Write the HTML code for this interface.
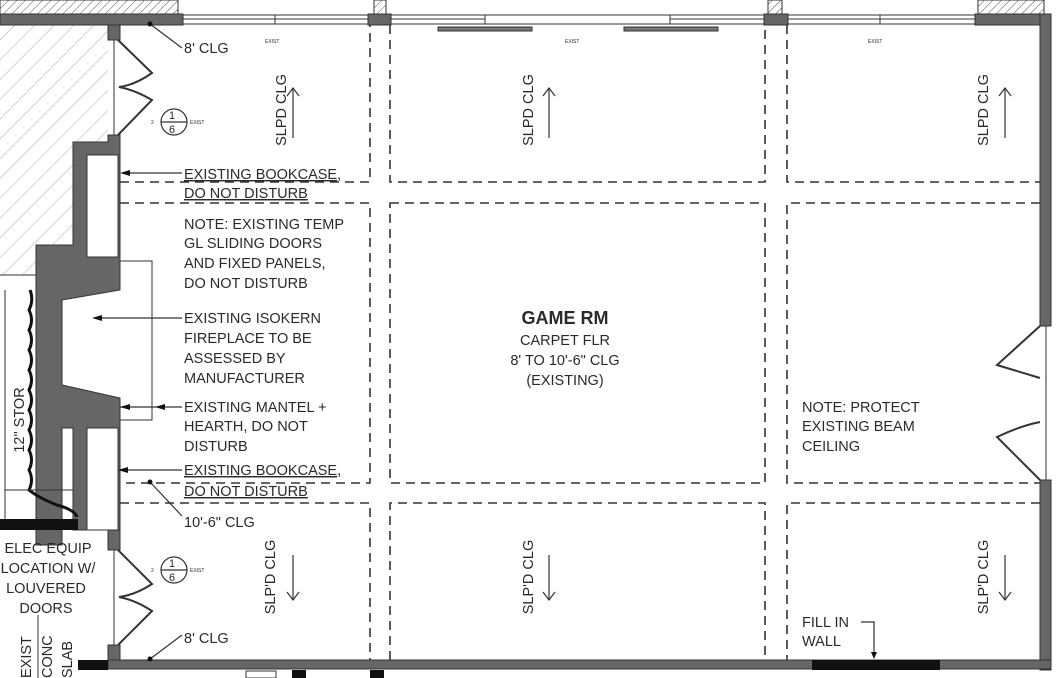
<!DOCTYPE html>
<html><head><meta charset="utf-8"><style>
html,body{margin:0;padding:0;background:#fff}
svg{display:block}
text{font-family:"Liberation Sans",Arial,sans-serif;fill:#2a2a2a}
</style></head><body>
<svg width="1056" height="678" viewBox="0 0 1056 678" xmlns="http://www.w3.org/2000/svg" font-size="14.5">
<defs>
<pattern id="h" width="14" height="14" patternUnits="userSpaceOnUse" patternTransform="rotate(45)">
<line x1="0" y1="0" x2="0" y2="14" stroke="#aaa" stroke-width="1"/></pattern>
<pattern id="h2" width="6" height="6" patternUnits="userSpaceOnUse" patternTransform="rotate(45)">
<line x1="0" y1="0" x2="0" y2="6" stroke="#555" stroke-width="1"/></pattern>
</defs>
<rect x="0" y="0" width="178" height="14" fill="url(#h2)" stroke="#333"/>
<rect x="978" y="0" width="66" height="14" fill="url(#h2)" stroke="#333"/>
<rect x="374" y="0" width="12" height="14" fill="url(#h2)" stroke="#333"/>
<rect x="768" y="0" width="14" height="14" fill="url(#h2)" stroke="#333"/>
<polygon points="0,25 108,25 108,142 73,142 73,245 36,245 36,275 0,275" fill="url(#h)"/>
<rect x="0" y="14" width="183" height="11" fill="#666" stroke="#333"/>
<rect x="183" y="15" width="187" height="9" fill="#fff" stroke="#333"/>
<line x1="183" y1="19" x2="370" y2="19" stroke="#333"/>
<line x1="275" y1="15" x2="275" y2="24" stroke="#333"/>
<rect x="368" y="14" width="23" height="11" fill="#666" stroke="#333"/>
<rect x="391" y="15" width="374" height="9" fill="#fff" stroke="#333"/>
<rect x="391" y="15" width="94" height="9" fill="#fff" stroke="#333"/>
<rect x="670" y="15" width="95" height="9" fill="#fff" stroke="#333"/>
<line x1="391" y1="19" x2="485" y2="19" stroke="#333"/><line x1="670" y1="19" x2="765" y2="19" stroke="#333"/>
<rect x="438" y="27" width="94" height="4" fill="#777" stroke="#333"/>
<rect x="624" y="27" width="94" height="4" fill="#777" stroke="#333"/>
<rect x="764" y="14" width="24" height="11" fill="#666" stroke="#333"/>
<rect x="788" y="15" width="187" height="9" fill="#fff" stroke="#333"/>
<line x1="788" y1="19" x2="975" y2="19" stroke="#333"/><line x1="880" y1="15" x2="880" y2="24" stroke="#333"/>
<rect x="975" y="14" width="75" height="11" fill="#666" stroke="#333"/>
<rect x="1040" y="14" width="11" height="312" fill="#666" stroke="#333"/>
<rect x="1040" y="480" width="11" height="190" fill="#666" stroke="#333"/>
<line x1="1046" y1="326" x2="1046" y2="480" stroke="#333"/>
<path d="M1040,326 L997,365 Q1020,372 1040,378 M1040,480 L997,437 Q1020,426 1040,422" fill="none" stroke="#333" stroke-width="2"/>
<rect x="108" y="660" width="943" height="9" fill="#666" stroke="#333"/>
<rect x="812" y="660" width="128" height="10" fill="#111"/>
<rect x="78" y="660" width="30" height="10" fill="#111"/>
<rect x="246" y="671" width="30" height="7" fill="#fff" stroke="#333"/>
<rect x="292" y="670" width="14" height="8" fill="#111"/><rect x="370" y="670" width="14" height="8" fill="#111"/>
<rect x="108" y="25" width="12" height="15" fill="#666" stroke="#333"/>
<line x1="114" y1="40" x2="114" y2="135" stroke="#333"/>
<path d="M118,40 L152,73 Q135,85 119,87 Q135,90 152,100 L118,135" fill="none" stroke="#333" stroke-width="2"/>
<rect x="108" y="530" width="12" height="20" fill="#666" stroke="#333"/>
<rect x="108" y="645" width="12" height="15" fill="#666" stroke="#333"/>
<line x1="114" y1="550" x2="114" y2="645" stroke="#333"/>
<path d="M118,550 L152,584 Q135,595 119,597 Q135,600 152,611 L118,645" fill="none" stroke="#333" stroke-width="2"/>
<polygon points="108,135 120,135 120,290 62,300 62,385 120,398 120,530 73,530 73,428 62,428 62,545 36,545 36,245 73,245 73,142 108,142" fill="#666" stroke="#333"/>
<rect x="87" y="155" width="31" height="102" fill="#fff" stroke="#333"/>
<rect x="87" y="428" width="31" height="102" fill="#fff" stroke="#333"/>
<polyline points="120,261 152,261 152,420 120,420" fill="none" stroke="#333"/>
<path d="M30,290 q4,10 -1,20 q5,10 0,20 q5,10 0,20 q5,10 0,20 q5,10 0,20 q5,10 0,20 q5,10 0,20 q5,10 0,20 q5,10 0,20 q5,10 0,20 q10,8 28,15 q18,5 20,12" fill="none" stroke="#111" stroke-width="3"/>
<line x1="0" y1="275" x2="36" y2="275" stroke="#333"/>
<line x1="5" y1="290" x2="5" y2="520" stroke="#333"/>
<line x1="5" y1="490" x2="73" y2="490" stroke="#333"/>
<rect x="0" y="519" width="78" height="11" fill="#111"/>
<text transform="translate(24,420) rotate(-90)" text-anchor="middle">12" STOR</text>
<g text-anchor="middle"><text x="48" y="553">ELEC EQUIP</text><text x="48" y="573">LOCATION W/</text><text x="46" y="593">LOUVERED</text><text x="46" y="613">DOORS</text></g>
<text transform="translate(31,678) rotate(-90)">EXIST</text>
<text transform="translate(52,678) rotate(-90)">CONC</text>
<text transform="translate(72,678) rotate(-90)">SLAB</text>
<line x1="38" y1="615" x2="38" y2="678" stroke="#333"/>
<g stroke="#333" stroke-width="1.6" stroke-dasharray="9,6" fill="none">
<polyline points="120,182 370,182 370,25"/>
<polyline points="120,203 370,203 370,483 120,483"/>
<polyline points="120,503 370,503 370,660"/>
<polyline points="390,25 390,182 765,182 765,25"/>
<rect x="390" y="203" width="375" height="280"/>
<polyline points="390,660 390,503 765,503 765,660"/>
<polyline points="787,25 787,182 1040,182"/>
<polyline points="1040,203 787,203 787,483 1040,483"/>
<polyline points="1040,503 787,503 787,660"/>
</g>
<g stroke="#333" fill="none" stroke-width="1.2">
<line x1="150" y1="24" x2="182" y2="48"/><line x1="150" y1="482" x2="182" y2="516"/><line x1="150" y1="659" x2="182" y2="635"/>
<line x1="125" y1="173" x2="182" y2="173"/>
<line x1="98" y1="318" x2="182" y2="318"/>
<line x1="120" y1="407" x2="182" y2="407"/>
<line x1="120" y1="470" x2="182" y2="470"/>
<polyline points="861,622 874,622 874,658"/>
<line x1="293" y1="88" x2="293" y2="138"/><polyline points="287,96 293,88 299,96"/>
<line x1="549" y1="88" x2="549" y2="138"/><polyline points="543,96 549,88 555,96"/>
<line x1="1005" y1="88" x2="1005" y2="138"/><polyline points="999,96 1005,88 1011,96"/>
<line x1="293" y1="555" x2="293" y2="600"/><polyline points="287,592 293,600 299,592"/>
<line x1="549" y1="555" x2="549" y2="600"/><polyline points="543,592 549,600 555,592"/>
<line x1="1005" y1="555" x2="1005" y2="600"/><polyline points="999,592 1005,600 1011,592"/>
<circle cx="174" cy="122" r="13"/><line x1="161" y1="122" x2="187" y2="122"/>
<circle cx="174" cy="570" r="13"/><line x1="161" y1="570" x2="187" y2="570"/>
</g>
<g fill="#111"><circle cx="150" cy="24" r="2.5"/><circle cx="150" cy="482" r="2.5"/><circle cx="150" cy="659" r="2.5"/>
<polygon points="120,173 130,170 130,176"/><polygon points="92,318 102,315 102,321"/><polygon points="120,407 130,404 130,410"/><polygon points="155,407 165,404 165,410"/><polygon points="118,470 128,467 128,473"/><polygon points="871,652 877,652 874,659"/></g>
<g font-size="11"><text x="169" y="119">1</text><text x="169" y="133">6</text><text x="169" y="567">1</text><text x="169" y="581">6</text></g>
<g font-size="5" style="fill:#555"><text x="151" y="124">2</text><text x="190" y="124">EXIST</text><text x="151" y="572">2</text><text x="190" y="572">EXIST</text>
<text x="265" y="43">EXIST</text><text x="565" y="43">EXIST</text><text x="868" y="43">EXIST</text></g>
<text x="184" y="53">8' CLG</text>
<text x="184" y="179" text-decoration="underline">EXISTING BOOKCASE,</text>
<text x="184" y="198" text-decoration="underline">DO NOT DISTURB</text>
<text x="184" y="229">NOTE: EXISTING TEMP</text>
<text x="184" y="248">GL SLIDING DOORS</text>
<text x="184" y="268">AND FIXED PANELS,</text>
<text x="184" y="288">DO NOT DISTURB</text>
<text x="184" y="323">EXISTING ISOKERN</text>
<text x="184" y="343">FIREPLACE TO BE</text>
<text x="184" y="363">ASSESSED BY</text>
<text x="184" y="383">MANUFACTURER</text>
<text x="184" y="412">EXISTING MANTEL +</text>
<text x="184" y="431">HEARTH, DO NOT</text>
<text x="184" y="451">DISTURB</text>
<text x="184" y="475" text-decoration="underline">EXISTING BOOKCASE,</text>
<text x="184" y="496" text-decoration="underline">DO NOT DISTURB</text>
<text x="184" y="527">10'-6" CLG</text>
<text x="184" y="643">8' CLG</text>
<g text-anchor="middle"><text x="565" y="324" font-weight="bold" font-size="18">GAME RM</text>
<text x="565" y="345">CARPET FLR</text><text x="565" y="365">8' TO 10'-6" CLG</text><text x="565" y="385">(EXISTING)</text></g>
<text x="802" y="412">NOTE: PROTECT</text><text x="802" y="431">EXISTING BEAM</text><text x="802" y="451">CEILING</text>
<text x="802" y="627">FILL IN</text><text x="802" y="646">WALL</text>
<g text-anchor="middle">
<text transform="translate(286,110) rotate(-90)">SLPD CLG</text>
<text transform="translate(533,110) rotate(-90)">SLPD CLG</text>
<text transform="translate(988,110) rotate(-90)">SLPD CLG</text>
<text transform="translate(275,577) rotate(-90)">SLP'D CLG</text>
<text transform="translate(533,577) rotate(-90)">SLP'D CLG</text>
<text transform="translate(988,577) rotate(-90)">SLP'D CLG</text>
</g>
</svg>
</body></html>
